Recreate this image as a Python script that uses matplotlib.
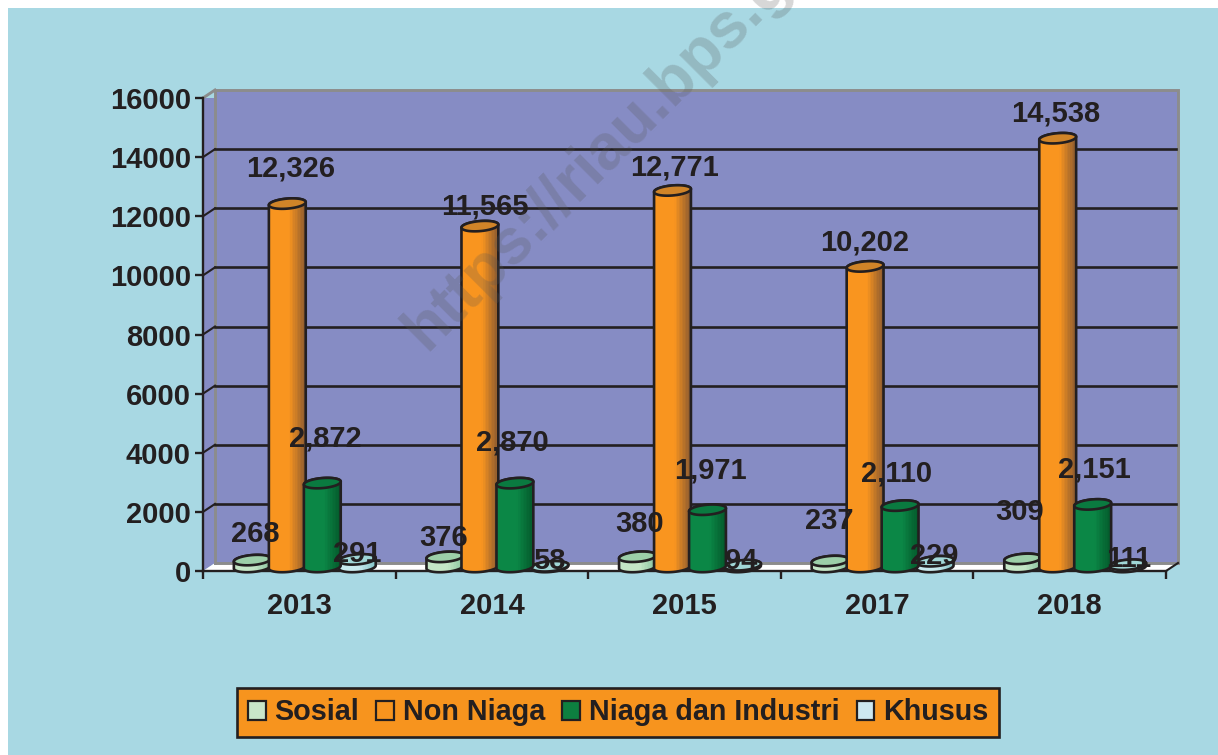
import numpy as np
import matplotlib
matplotlib.use("Agg")
import matplotlib.pyplot as plt
from matplotlib.patches import Patch, Polygon, Rectangle
from matplotlib.transforms import Affine2D, IdentityTransform
from matplotlib.colors import LinearSegmentedColormap

plt.rcParams['font.family'] = ['Liberation Sans', 'DejaVu Sans']
plt.rcParams['font.weight'] = 'bold'

years = ['2013', '2014', '2015', '2017', '2018']
series_names = ['Sosial', 'Non Niaga', 'Niaga dan Industri', 'Khusus']
sosial = [268, 376, 380, 237, 309]
non_niaga = [12326, 11565, 12771, 10202, 14538]
niaga_industri = [2872, 2870, 1971, 2110, 2151]
khusus = [291, 58, 94, 229, 111]
y_ticks = [0, 2000, 4000, 6000, 8000, 10000, 12000, 14000, 16000]

# label shift from the top of each bar in pixels (x right, y up), placed by hand in the original
sosial_shift = [(8, 29), (4, 22), (8, 36), (5, 43), (2, 50)]
non_niaga_shift = [(9, 38), (10, 23), (8, 26), (5, 27), (3, 28)]
niaga_shift = [(9, 48), (3, 44), (8, 42), (2, 35), (7, 38)]
khusus_shift = [(5, 8), (5, 8), (4, 7), (5, 8), (6, 9)]

INK = '#231F20'
TEAL = '#A8D8E3'
WALL = '#868CC4'
GREY = '#8C8C8C'

# left colour, right colour, top colour, legend colour
styles = [
    ('#C4E6C6', '#8CC4A0', '#9CCFA8', '#C8E6C9'),
    ('#F9951F', '#8E5C30', '#D08428', '#F7941E'),
    ('#0B8746', '#045A2C', '#0A7A40', '#0D8040'),
    ('#C8EAEE', '#84C4C6', '#A0D6D6', '#CDE8F0'),
]

DEPTH_X, DEPTH_Y = 12, 8
BAR_W, BAR_H = 37, 10
TILT = np.radians(5)
EDGE = 1.9

fig = plt.figure(figsize=(12.18, 7.55), dpi=100, facecolor='white')
fig.add_artist(Rectangle((8 / 1218, 0), 1, 1 - 8 / 755, transform=fig.transFigure,
                         facecolor=TEAL, edgecolor='none', zorder=-5))

ax = fig.add_axes([203 / 1218, (755 - 571) / 755, 963 / 1218, 473 / 755])
ax.set_xlim(0, 5)
ax.set_ylim(0, 16000)
ax.patch.set_visible(False)

back = ax.transData + Affine2D().translate(DEPTH_X, DEPTH_Y)
disp = IdentityTransform()

# left wall, back wall, floor
corner = ax.transData.transform([(0, 0), (5, 0), (0, 16000)])
bl, br, tl = corner
left_wall = [bl, tl, tl + (DEPTH_X, DEPTH_Y), bl + (DEPTH_X, DEPTH_Y)]
ax.add_patch(Polygon(left_wall, transform=disp, facecolor=WALL, edgecolor='none', zorder=0))
ax.add_patch(Rectangle((0, 0), 5, 16000, transform=back, facecolor=WALL, edgecolor='none',
                       clip_on=False, zorder=0))
floor = [bl, br, br + (DEPTH_X, DEPTH_Y), bl + (DEPTH_X, DEPTH_Y)]
ax.add_patch(Polygon(floor, transform=disp, facecolor='white', edgecolor='none', clip_on=False, zorder=0))

# grey frame
ax.plot([0, 0, 5, 5, 0], [0, 16000, 16000, 0, 0], transform=back, color=GREY, lw=2.1,
        clip_on=False, zorder=1, solid_joinstyle='miter')
ax.plot([tl[0], tl[0] + DEPTH_X], [tl[1], tl[1] + DEPTH_Y], transform=disp, color=GREY, lw=2.1,
        clip_on=False, zorder=1)

# grid on the back wall, with the short diagonals on the left wall
for v in y_ticks[1:-1]:
    ax.plot([0, 4.99], [v, v], transform=back, color=INK, lw=1.9, clip_on=False, zorder=1.5)
for v in y_ticks[1:-1]:
    p = ax.transData.transform((0, v))
    ax.plot([p[0], p[0] + DEPTH_X], [p[1], p[1] + DEPTH_Y], transform=disp, color=INK, lw=1.5,
            clip_on=False, zorder=1.5)
ax.plot([br[0], br[0] + DEPTH_X], [br[1], br[1] + DEPTH_Y], transform=disp, color=INK, lw=1.5,
        clip_on=False, zorder=1.5)


def ellipse_points(cx, cy, t):
    ex = BAR_W / 2 * np.cos(t)
    ey = BAR_H / 2 * np.sin(t)
    return np.column_stack([cx + ex * np.cos(TILT) - ey * np.sin(TILT),
                            cy + ex * np.sin(TILT) + ey * np.cos(TILT)])


def cylinder(x, value, style, z):
    left_c, right_c, top_c, _ = style
    cx, y0 = ax.transData.transform((x, 0))
    _, y1 = ax.transData.transform((x, value))
    cx += 5.5
    y0 += 4
    y1 += 3
    lower = ellipse_points(cx, y0, np.linspace(np.pi, 2 * np.pi, 30))
    upper = ellipse_points(cx, y1, np.linspace(0, np.pi, 30))
    body = Polygon(np.vstack([lower, upper]), closed=True, transform=disp, facecolor='none',
                   edgecolor=INK, lw=EDGE, clip_on=False, zorder=z + 0.2)
    ax.add_patch(body)
    # shading runs across the bar in thin strips
    cmap = LinearSegmentedColormap.from_list('shade', [(0, left_c), (0.55, left_c), (1, right_c)])
    n = 24
    for i in range(n):
        sx = cx - BAR_W / 2 + i * BAR_W / n
        strip = Rectangle((sx, y0 - 8), BAR_W / n + 0.6, y1 - y0 + 16, transform=disp,
                          facecolor=cmap(i / (n - 1)), edgecolor='none', zorder=z)
        ax.add_patch(strip)
        strip.set_clip_path(body.get_path(), body.get_patch_transform() + disp)
    top = ellipse_points(cx, y1, np.linspace(0, 2 * np.pi, 60))
    ax.add_patch(Polygon(top, closed=True, transform=disp, facecolor=top_c, edgecolor=INK, lw=EDGE,
                         clip_on=False, zorder=z + 0.3))


# khusus sits behind the green bar in the original
draw_z = [3, 5, 6, 4]
all_series = [sosial, non_niaga, niaga_industri, khusus]
all_shifts = [sosial_shift, non_niaga_shift, niaga_shift, khusus_shift]
for j, values in enumerate(all_series):
    for k, v in enumerate(values):
        x = k + 0.5 + (j - 1.5) * 35 / 192.6
        cylinder(x, v, styles[j], draw_z[j])
        ax.annotate(f'{v:,}', xy=(x, v), xytext=all_shifts[j][k], textcoords='offset pixels',
                    ha='center', va='center', fontsize=21, fontweight='bold', color=INK,
                    zorder=20, annotation_clip=False)

# axes
for s in ['top', 'right']:
    ax.spines[s].set_visible(False)
for s in ['left', 'bottom']:
    ax.spines[s].set_color(INK)
    ax.spines[s].set_linewidth(1.7)
    ax.spines[s].set_zorder(2)
ax.set_yticks(y_ticks)
ax.set_yticklabels([str(v) for v in y_ticks])
ax.set_xticks(range(6))
ax.set_xticklabels([])
ax.set_xticks(np.arange(5) + 0.5, minor=True)
ax.set_xticklabels(years, minor=True)
ax.tick_params(axis='y', length=5.8, width=1.7, color=INK, labelsize=21, labelcolor=INK, pad=3)
ax.tick_params(axis='x', which='major', length=6, width=1.7, color=INK)
ax.tick_params(axis='x', which='minor', length=0, labelsize=21, labelcolor=INK, pad=15)

# legend
handles = [Patch(facecolor=st[3], edgecolor=INK, lw=1.6) for st in styles]
leg = ax.legend(handles, series_names, ncol=4, loc='center',
                bbox_to_anchor=(618 / 1218, 1 - 712.5 / 755), bbox_transform=fig.transFigure,
                fontsize=20.7, fancybox=False, framealpha=1, facecolor='#F7941E', edgecolor=INK,
                handlelength=0.62, handleheight=0.62, handletextpad=0.3, columnspacing=0.6,
                borderpad=0.36, borderaxespad=0)
leg.get_frame().set_linewidth(1.9)
leg.set_zorder(25)
for t in leg.get_texts():
    t.set_color(INK)
    t.set_fontweight('bold')

# watermark
fig.text(426 / 1218, 1 - 352 / 755, 'https://riau.bps.go.id', rotation=45, rotation_mode='anchor',
         ha='left', va='baseline', fontsize=46, fontweight='bold', color='#555555', alpha=0.24,
         zorder=40)

fig.savefig('out.png', dpi=100)
